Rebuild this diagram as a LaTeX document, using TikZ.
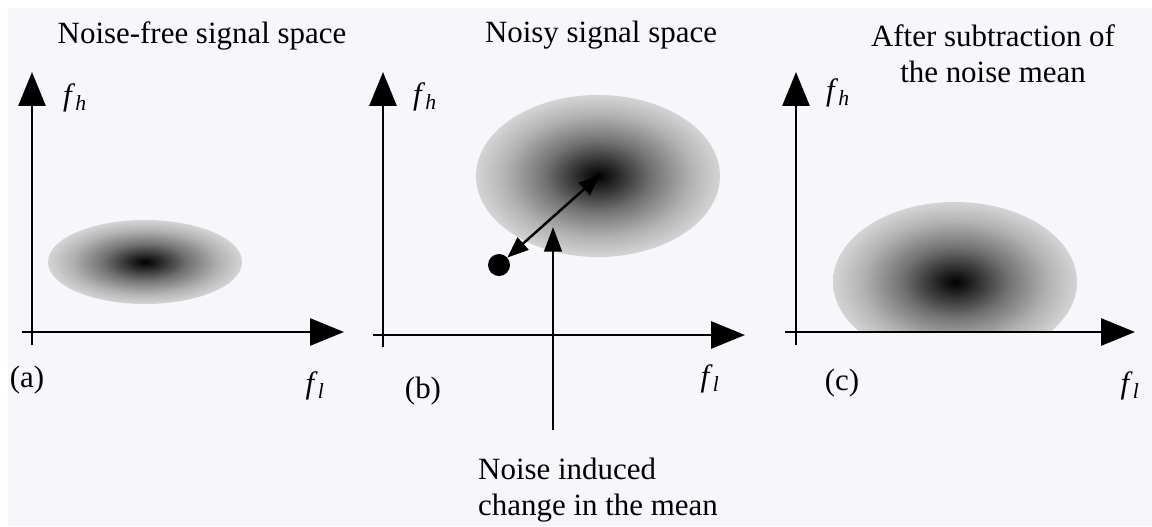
\documentclass[tikz,border=0pt]{standalone}
\usepackage{fontspec}
\setmainfont{Liberation Serif}
\usetikzlibrary{arrows.meta}
\definecolor{paper}{RGB}{247,246,250}
\pgfdeclareradialshading{cloud}{\pgfpoint{0bp}{0bp}}{color(0bp)=(black); color(3bp)=(black!88); color(11bp)=(black!55); color(19bp)=(black!30); color(24bp)=(black!19); color(25bp)=(black!17); color(50bp)=(black!17)}
\begin{document}
\begin{tikzpicture}[x=0.03cm, y=-0.03cm,
  axis/.style={line width=2.5pt, -{Triangle[length=29pt, width=23pt]}},
  txt/.style={font=\fontsize{26.4}{30.5}\selectfont, inner sep=0pt},
  blob/.style={shading=cloud}]
  \useasboundingbox (0,0) rectangle (1152,526);
  \fill[white] (0,0) rectangle (1152,526);
  \fill[paper] (8,8) rectangle (1152,526);
  \shade[blob] (145,262) ellipse (97 and 42);
  \draw[axis] (32,345) -- (32,72);
  \draw[axis] (22,332) -- (344,332);
  \node[txt, anchor=base] (ta) at (202,43) {Noise-free signal space};
  \node[txt] (fha) at (75,98) {\textit{f}\textsubscript{\textit{h}}};
  \node[txt] (pa) at (27,380) {(a)};
  \node[txt] (fla) at (315,386) {\textit{f}\textsubscript{\textit{l}}};
  \shade[blob] (598,176) ellipse (122 and 81);
  \draw[axis] (383,347) -- (383,72);
  \draw[axis] (373,335) -- (745,335);
  \coordinate (mb) at (600,175);
  \node[circle, fill, inner sep=0pt, minimum size=0.66cm] (dot) at (499,265) {};
  \draw[line width=2.1pt, {Triangle[length=18pt, width=14pt]}-{Triangle[length=18pt, width=14pt]}] (dot) -- (mb);
  \coordinate (nb) at (553,430);
  \coordinate (nt) at (553,227);
  \draw[line width=2.3pt, -{Triangle[length=21pt, width=15pt]}] (nb) -- (nt);
  \node[txt, anchor=base] (tb) at (601,42) {Noisy signal space};
  \node[txt] (fhb) at (425,97) {\textit{f}\textsubscript{\textit{h}}};
  \node[txt] (pb) at (423,391) {(b)};
  \node[txt] (flb) at (710,379) {\textit{f}\textsubscript{\textit{l}}};
  \node[txt, anchor=base west, align=left] (nm) at (478,515) {Noise induced\\change in the mean};
  \begin{scope}
    \clip (760,0) rectangle (1152,332);
    \shade[blob] (955,282) ellipse (122 and 80);
  \end{scope}
  \draw[axis] (796,345) -- (796,72);
  \draw[axis] (785,332) -- (1135,332);
  \node[txt, anchor=base, align=center] (tc) at (993,82) {After subtraction of\\the noise mean};
  \node[txt] (fhc) at (838,93) {\textit{f}\textsubscript{\textit{h}}};
  \node[txt] (pc) at (842,383) {(c)};
  \node[txt] (flc) at (1130,386) {\textit{f}\textsubscript{\textit{l}}};
\end{tikzpicture}
\end{document}
